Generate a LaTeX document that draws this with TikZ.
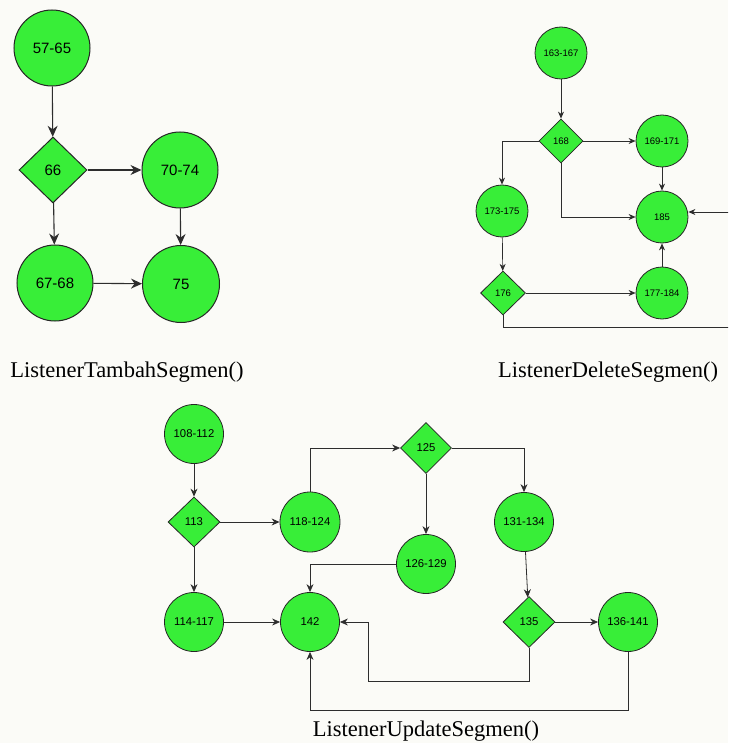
\documentclass[tikz,border=0pt]{standalone}
\usepackage{fontspec}
\setmainfont{Liberation Serif}
\newfontfamily\nodefont{Liberation Sans}
\usetikzlibrary{shapes.geometric,arrows.meta}
\definecolor{nodegreen}{RGB}{56,238,56}
\definecolor{paper}{RGB}{251,251,247}
\definecolor{wire}{RGB}{45,45,45}

\begin{document}
\begin{tikzpicture}[x=1pt,y=-1pt,
  blk/.style={draw=black!85, fill=nodegreen, inner sep=0pt},
  circ/.style={blk, circle},
  dia/.style={blk, diamond},
  flow/.style={draw=wire, line width=0.8pt, -{Stealth[length=8pt,width=7pt]}},
  caption/.style={font=\fontsize{22.5}{24}\selectfont}
]
\useasboundingbox (0,0) rectangle (728,743);
\clip (0,0) rectangle (728,743);
\fill[paper] (0,0) rectangle (728,743);

% ---------- ListenerTambahSegmen() ----------
\begin{scope}[every node/.append style={font=\nodefont\fontsize{15}{17}\selectfont, line width=1pt},
  flow/.append style={line width=1.1pt, -{Stealth[length=11pt,width=10pt]}}]
  \node[circ, minimum size=76pt] (t1) at (52,48) {57-65};
  \node[dia, minimum width=68pt, minimum height=66pt] (t2) at (53,170) {66};
  \node[circ, minimum size=76pt] (t3) at (180,170) {70-74};
  \node[circ, minimum size=76pt] (t4) at (55,283) {67-68};
  \node[circ, minimum size=77pt] (t5) at (181,284) {75};
  \draw[flow] (t1) -- (t2);
  \draw[flow] (t2) -- (t3);
  \draw[flow] (t2) -- (t4);
  \draw[flow] (t3) -- (t5);
  \draw[flow] (t4) -- (t5);
\end{scope}
\node[caption] (capA) at (127,372) {ListenerTambahSegmen()};

% ---------- ListenerDeleteSegmen() ----------
\begin{scope}[every node/.append style={font=\nodefont\fontsize{9.5}{11}\selectfont, line width=0.8pt},
  flow/.append style={line width=0.7pt, -{Stealth[length=7pt,width=6pt]}}]
  \node[circ, minimum size=52pt] (d1) at (561,53) {163-167};
  \node[dia, minimum width=44pt, minimum height=44pt] (d2) at (561,141) {168};
  \node[circ, minimum size=52pt] (d3) at (662,141) {169-171};
  \node[circ, minimum size=52pt] (d4) at (662,217) {185};
  \node[circ, minimum size=52pt] (d5) at (502,211) {173-175};
  \node[dia, minimum width=45pt, minimum height=44pt] (d6) at (503,293) {176};
  \node[circ, minimum size=52pt] (d7) at (662,293) {177-184};
  \coordinate (dloopA) at (503,327);
  \coordinate (dloopB) at (745,327);
  \coordinate (dloopC) at (745,212);
  \draw[flow] (d1) -- (d2);
  \draw[flow] (d2) -- (d3);
  \draw[flow] (d2.west) -| (d5.north);
  \draw[flow] (d2.south) |- (d4.west);
  \draw[flow] (d3) -- (d4);
  \draw[flow] (d5) -- (d6);
  \draw[flow] (d6) -- (d7);
  \draw[flow] (d7) -- (d4);
  \draw[flow] (d6.south) -- (dloopA) -- (dloopB) -- (dloopC) -- (d4.east |- dloopC);
\end{scope}
\node[caption] (capB) at (608,372) {ListenerDeleteSegmen()};

% ---------- ListenerUpdateSegmen() ----------
\begin{scope}[every node/.append style={font=\nodefont\fontsize{11.3}{13}\selectfont, line width=0.8pt},
  flow/.append style={line width=0.8pt, -{Stealth[length=8pt,width=7pt]}}]
  \node[circ, minimum size=59pt] (u1) at (194,434) {108-112};
  \node[dia, minimum width=52pt, minimum height=50pt] (u2) at (194,522) {113};
  \node[circ, minimum size=60pt] (u3) at (310,522) {118-124};
  \node[dia, minimum width=51pt, minimum height=51pt] (u4) at (426,448) {125};
  \node[circ, minimum size=59pt] (u5) at (426,564) {126-129};
  \node[circ, minimum size=59pt] (u6) at (524,522) {131-134};
  \node[dia, minimum width=52pt, minimum height=51pt] (u7) at (529,622) {135};
  \node[circ, minimum size=59pt] (u8) at (628,622) {136-141};
  \node[circ, minimum size=59pt] (u9) at (194,622) {114-117};
  \node[circ, minimum size=59pt] (u10) at (310,622) {142};
  \coordinate (uloopA) at (529,681);
  \coordinate (uloopB) at (368,681);
  \coordinate (uloopC) at (368,622);
  \coordinate (uloopD) at (628,710);
  \coordinate (uloopE) at (310,710);
  \draw[flow] (u1) -- (u2);
  \draw[flow] (u2) -- (u3);
  \draw[flow] (u2) -- (u9);
  \draw[flow] (u3.north) |- (u4.west);
  \draw[flow] (u4.east) -| (u6.north);
  \draw[flow] (u4) -- (u5);
  \draw[flow] (u5.west) -| (u10.north);
  \draw[flow] (u9) -- (u10);
  \draw[flow] (u6) -- (u7);
  \draw[flow] (u7) -- (u8);
  \draw[flow] (u7.south) -- (uloopA) -- (uloopB) -- (uloopC) -- (u10.east);
  \draw[flow] (u8.south) -- (uloopD) -- (uloopE) -- (u10.south);
\end{scope}
\node[caption] (capC) at (426,731) {ListenerUpdateSegmen()};
\end{tikzpicture}
\end{document}
